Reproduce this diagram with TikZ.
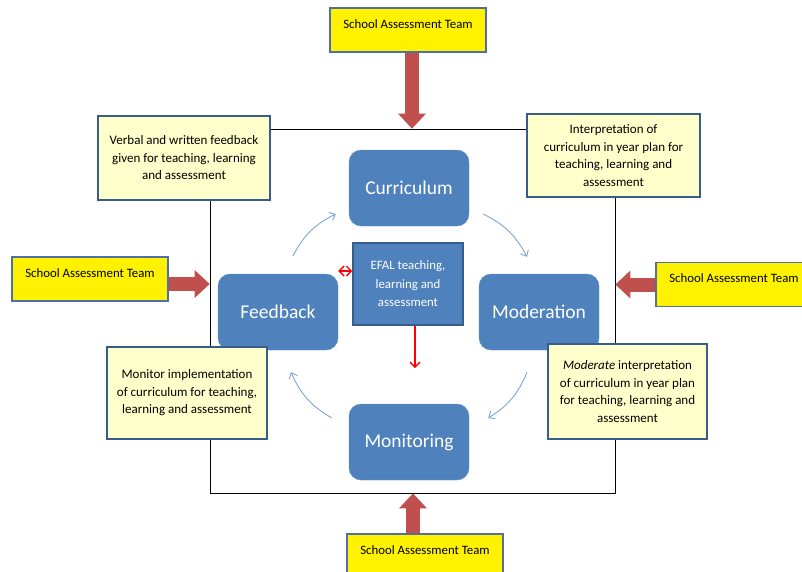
\documentclass[tikz,border=0pt]{standalone}
\usepackage{fontspec}
\setmainfont{Carlito}
\usetikzlibrary{arrows.meta}
\definecolor{stageblue}{HTML}{4F81BD}
\definecolor{edgeblue}{HTML}{385D8A}
\definecolor{notefill}{HTML}{FFFFCC}
\definecolor{teamedge}{HTML}{4F6FA5}
\definecolor{pushred}{HTML}{C0504D}
\definecolor{flowblue}{HTML}{7FA3D3}

\begin{document}
\begin{tikzpicture}[x=1pt, y=-1pt,
  every node/.style={align=center},
  stage/.style={fill=stageblue, draw=stageblue!85!white, rounded corners=12pt, text=white,
    minimum width=120pt, minimum height=76pt, font=\fontsize{19.5}{22}\selectfont},
  note/.style={fill=notefill, draw=edgeblue, line width=1.5pt, font=\fontsize{13}{17.5}\selectfont},
  team/.style={fill=yellow, draw=teamedge, line width=1.5pt, minimum width=156pt,
    inner ysep=0pt, text height=20pt, text depth=24pt, font=\fontsize{12.8}{15}\selectfont},
  push/.style={draw=pushred, line width=14pt, -{Triangle[width=28pt, length=15pt, line width=0pt]}},
  flow/.style={draw=flowblue, line width=0.9pt, -{Straight Barb[length=5pt, width=9pt]}, bend left=18},
  link/.style={draw=red, line width=1.4pt},
  redtip/.style={Straight Barb[length=5pt, width=10pt, line width=1.8pt]}]

  \useasboundingbox (0,0) rectangle (802,571);

  \node (frame) [draw, line width=0.8pt, minimum width=405pt, minimum height=364pt] at (412.5,311) {};

  \node (curriculum) [stage] at (409,188) {Curriculum};
  \node (feedback)   [stage] at (278,312) {Feedback};
  \node (moderation) [stage] at (539,312) {Moderation};
  \node (monitoring) [stage] at (409,442) {Monitoring};

  \node (efal) [fill=stageblue, draw=edgeblue, line width=1.5pt, text=white, minimum width=110pt,
    minimum height=82pt, font=\fontsize{12.8}{18.5}\selectfont] at (408,284)
    {EFAL teaching,\\ learning and\\ assessment};

  \node (fbnote)  [note, minimum width=172pt, minimum height=84pt] at (184,158)
    {Verbal and written feedback\\ given for teaching, learning\\ and assessment};
  \node (curnote) [note, minimum width=173pt, minimum height=83pt] at (613.5,155.5)
    {Interpretation of\\ curriculum in year plan for\\ teaching, learning and\\ assessment};
  \node (monnote) [note, minimum width=160pt, minimum height=92pt] at (187,393)
    {Monitor implementation\\ of curriculum for teaching,\\ learning and assessment};
  \node (modnote) [note, minimum width=159pt, minimum height=95pt] at (627.5,391.5)
    {\textit{Moderate} interpretation\\ of curriculum in year plan\\ for teaching, learning and\\ assessment};

  \node (teamtop)   [team] at (408,30)    {School Assessment Team};
  \node (teamleft)  [team] at (90,279)    {School Assessment Team};
  \node (teamright) [team] at (734,284.5) {School Assessment Team};
  \node (teambot)   [team] at (425,556)   {School Assessment Team};

  \draw[push] ([xshift=4pt]teamtop.south) -- ([xshift=4pt]teamtop.south |- frame.north);
  \draw[push] ([yshift=-5pt]teamleft.east) -- ([yshift=-5pt]teamleft.east -| frame.west);
  \draw[push] (teamright.west) -- (teamright.west -| frame.east);
  \draw[push] ([xshift=-12pt]teambot.north) -- ([xshift=-12pt]teambot.north |- frame.south);

  \draw[flow] ([xshift=15pt, yshift=18pt]feedback.north) to ([xshift=-13pt, yshift=-26pt]curriculum.west);
  \draw[flow] ([xshift=14pt, yshift=-26pt]curriculum.east) to ([xshift=-12pt, yshift=17pt]moderation.north);
  \draw[flow] ([xshift=-12pt, yshift=-22pt]moderation.south) to ([xshift=19pt, yshift=24pt]monitoring.east);
  \draw[flow] ([xshift=-17pt, yshift=24pt]monitoring.west) to ([xshift=13pt, yshift=-22pt]feedback.south);

  \coordinate (efalout) at (415,368);
  \draw[link, {Straight Barb[length=5pt, width=10pt]}-{Straight Barb[length=5pt, width=10pt]}]
    ([yshift=13pt]efal.west) -- ([yshift=13pt]efal.west -| feedback.east);
  \draw[link, -{Straight Barb[length=5pt, width=10pt]}] (efal.south -| efalout) -- (efalout);
\end{tikzpicture}
\end{document}
